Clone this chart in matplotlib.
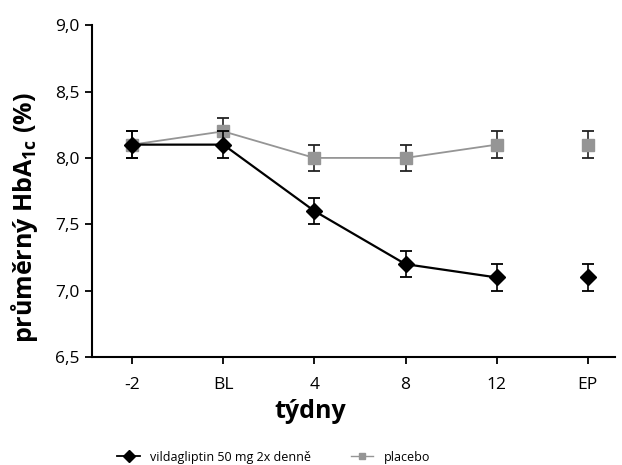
import matplotlib
matplotlib.use("Agg")
import matplotlib.pyplot as plt
from matplotlib.lines import Line2D
import numpy as np

plt.rcParams['font.family'] = ['Open Sans', 'DejaVu Sans']

# data
tydny = ["-2", "BL", "4", "8", "12", "EP"]
vilda = [8.1, 8.1, 7.6, 7.2, 7.1, 7.1]
vilda_err = [0.1, 0.1, 0.1, 0.1, 0.1, 0.1]
placebo = [8.1, 8.2, 8.0, 8.0, 8.1, 8.1]
placebo_err = [0.1, 0.1, 0.1, 0.1, 0.1, 0.1]

x = np.arange(len(tydny))

fig = plt.figure(figsize=(6.22, 4.65), dpi=100)
ax = fig.add_axes([0.148, 0.232, 0.841, 0.714])

seda = "#959595"
# placebo - EP bod neni spojeny
ax.plot(x[:-1], placebo[:-1], color=seda, lw=1.3, zorder=2)
ax.errorbar(x, placebo, yerr=placebo_err, fmt="s", color=seda, ms=8,
            ecolor="#222222", elinewidth=1.2, capsize=4, capthick=1.3, zorder=3)
ax.plot(x[:-1], vilda[:-1], color="black", lw=1.6, zorder=4)
ax.errorbar(x, vilda, yerr=vilda_err, fmt="D", color="black", ms=8,
            ecolor="black", elinewidth=1.2, capsize=4, capthick=1.3, zorder=5)

ax.set_xlim(-0.44, 5.3)
ax.set_ylim(6.5, 9.0)
ax.set_xticks(x)
ax.set_xticklabels(tydny, fontsize=12.5)
ax.set_yticks([6.5, 7.0, 7.5, 8.0, 8.5, 9.0])
ax.set_yticklabels(["6,5", "7,0", "7,5", "8,0", "8,5", "9,0"], fontsize=12.5)
ax.tick_params(axis="x", direction="out", length=5, width=1.3, pad=9)
ax.tick_params(axis="y", direction="out", length=5, width=1.3, pad=4)
for s in ["top", "right"]:
    ax.spines[s].set_visible(False)
for s in ["left", "bottom"]:
    ax.spines[s].set_linewidth(1.5)

ax.set_xlabel("týdny", fontsize=18, fontweight="bold", labelpad=4)
ax.xaxis.set_label_coords(0.417, -0.125)
ax.set_ylabel("průměrný HbA$_{\\mathregular{1c}}$ (%)", fontsize=18, fontweight="bold")
ax.yaxis.set_label_coords(-0.1, 0.42)

h1 = Line2D([], [], color="black", marker="D", ms=6, lw=1.3)
h2 = Line2D([], [], color=seda, marker="s", ms=5, lw=1.0)
fig.legend([h1, h2], ["vildagliptin 50 mg 2x denně", "placebo"], loc="center",
           bbox_to_anchor=(0.44, 0.017), ncol=2, frameon=False, fontsize=9,
           handlelength=1.8, columnspacing=3.2)

fig.savefig("out.png", dpi=100)
